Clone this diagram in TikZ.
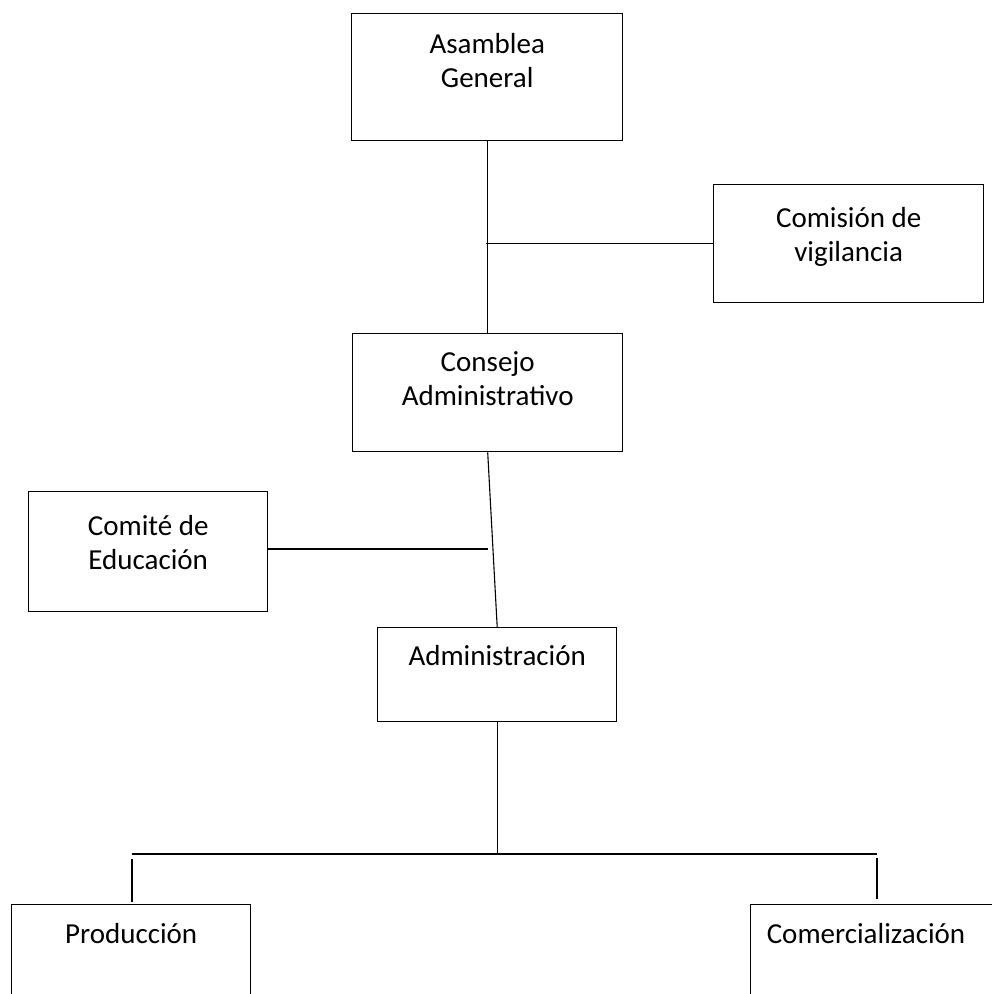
\documentclass[tikz,border=0pt]{standalone}
\usepackage{fontspec}
\setmainfont{Carlito}
\usetikzlibrary{calc}
\begin{document}
\begin{tikzpicture}[x=1pt,y=-1pt,
  box/.style={draw, line width=1.4pt, inner sep=0pt, anchor=north west},
  txt/.style={font=\fontsize{29}{34}\selectfont, align=center, inner sep=0pt, anchor=north},
  conn/.style={line width=1.1pt},
  bus/.style={line width=2pt}]
\useasboundingbox (0,0) rectangle (992,994);
\clip (0,0) rectangle (992,994);

% boxes
\node[box, minimum width=271pt, minimum height=127pt] (ag) at (351,13) {};
\node[txt] (agt) at ($(ag.north)+(0,20)$) {Asamblea\\General};

\node[box, minimum width=270pt, minimum height=118pt] (cv) at (713,184) {};
\node[txt] (cvt) at ($(cv.north)+(0,23)$) {Comisión de\\vigilancia};

\node[box, minimum width=270pt, minimum height=118pt] (ca) at (352,333) {};
\node[txt] (cat) at ($(ca.north)+(0,18)$) {Consejo\\Administrativo};

\node[box, minimum width=239pt, minimum height=120pt] (ce) at (28,491) {};
\node[txt] (cet) at ($(ce.north)+(0,24)$) {Comité de\\Educación};

\node[box, minimum width=239pt, minimum height=94pt] (ad) at (377,627) {};
\node[txt] (adt) at ($(ad.north)+(0,18)$) {Administración};

\node[box, minimum width=239pt, minimum height=120pt] (pr) at (11,904) {};
\node[txt] (prt) at ($(pr.north)+(0,19)$) {Producción};

\node[box, minimum width=260pt, minimum height=120pt] (co) at (750,904) {};
\node[txt] (cot) at (866,923) {Comercialización};

% junction points
\coordinate (j1) at (486,239);
\coordinate (j2) at (488,549);
\coordinate (bl) at (132,854);
\coordinate (br) at (877,854);

% connectors
\draw[conn] (ag.south) -- (ag.south |- ca.north);
\draw[conn] (cv.west) -- (cv.west -| j1);
\draw[conn] (ca.south) -- (ad.north);
\draw[conn] (j2 -| ce.east) -- (j2);
\draw[conn] (ad.south) -- (ad.south |- bl);
\draw[bus] (bl) -- (br);
\draw[conn] ($(bl)+(0,5)$) -- ($(pr.north -| bl)+(0,-2)$);
\draw[conn] ($(br)+(0,4)$) -- ($(co.north -| br)+(0,-5)$);
\end{tikzpicture}
\end{document}
